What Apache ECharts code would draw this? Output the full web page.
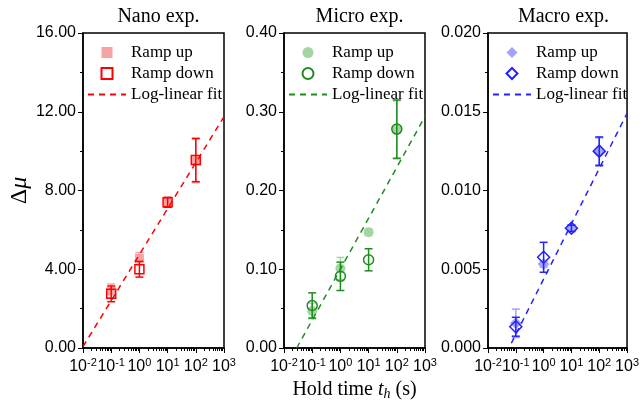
<!DOCTYPE html>
<html>
<head>
<meta charset="utf-8">
<script src="https://cdn.jsdelivr.net/npm/echarts@6/dist/echarts.min.js"></script>
<style>
  html, body { margin: 0; padding: 0; background: #fff; }
  #chart { width: 642px; height: 407px; }
</style>
</head>
<body>
<div id="chart"></div>
<script>
// hold times (s)
const holdTimes = [0.1, 1, 10, 100];
const decadeTicks = [0.01, 0.1, 1, 10, 100, 1000];

// Nano exp.
const nanoUp = [2.9, 4.55, 7.4, 9.5];
const nanoUpErr = [0.35, 0.3, 0.25, 1.1];
const nanoDown = [2.75, 4.0, 7.4, 9.55];
const nanoDownErr = [0.4, 0.4, 0.25, 1.1];
const nanoFitX = [0.01, 1000];
const nanoFitY = [0.07, 11.75];

// Micro exp.
const microUp = [0.047, 0.101, 0.147, 0.277];
const microUpErr = [0.01, 0.014, 0.004, 0.037];
const microDown = [0.054, 0.091, 0.112, 0.278];
const microDownErr = [0.016, 0.018, 0.014, 0.037];
const microFitX = [0.0282, 1000];
const microFitY = [0, 0.294];

// Macro exp.
const macroUp = [0.00157, 0.00533, 0.0076, 0.01244];
const macroUpErr = [0.0009, 0.0002, 0.0002, 0.0009];
const macroDown = [0.00135, 0.00576, 0.0076, 0.0125];
const macroDownErr = [0.0006, 0.00095, 0.0002, 0.0009];
const macroFitX = [0.069, 1000];
const macroFitY = [0.0003, 0.0149];

const titles = ["Nano exp.", "Micro exp.", "Macro exp."];
const yMax = [16, 0.4, 0.02];
const yStep = [4, 0.1, 0.005];
const yDigits = [2, 2, 3];
const legendNames = ["Ramp up", "Ramp down", "Log-linear fit"];

const SQUARE = "path://M0,0L10,0L10,10L0,10Z";
const DIAMOND = "path://M5,0L10,5L5,10L0,5Z";

const panels = [
  { key: "nano", up: nanoUp, upErr: nanoUpErr, down: nanoDown, downErr: nanoDownErr, fitX: nanoFitX, fitY: nanoFitY,
    dark: "#ff0000", light: "#f7a3a3", symbol: SQUARE, size: 9, icon: SQUARE },
  { key: "micro", up: microUp, upErr: microUpErr, down: microDown, downErr: microDownErr, fitX: microFitX, fitY: microFitY,
    dark: "#1f8c1f", light: "#a3d6a3", symbol: "circle", size: 10, icon: "circle" },
  { key: "macro", up: macroUp, upErr: macroUpErr, down: macroDown, downErr: macroDownErr, fitX: macroFitX, fitY: macroFitY,
    dark: "#2222ff", light: "#a3a3f7", symbol: DIAMOND, size: 12, icon: DIAMOND }
];

const gridLefts = [83, 284, 488];
const plotW = 141;

// minor ticks of the log axis (2..9 in every decade)
const minorTicks = [];
for (let d = -2; d < 3; d++) {
  for (let k = 2; k <= 9; k++) minorTicks.push(k * Math.pow(10, d));
}

function errorBar(color) {
  return function (params, api) {
    const x = api.value(0);
    const top = api.coord([x, api.value(2)]);
    const bot = api.coord([x, api.value(1)]);
    const cap = 4;
    const style = { stroke: color, lineWidth: 1.5, fill: null };
    return {
      type: "group",
      children: [
        { type: "line", shape: { x1: top[0], y1: top[1], x2: bot[0], y2: bot[1] }, style: style },
        { type: "line", shape: { x1: top[0] - cap, y1: top[1], x2: top[0] + cap, y2: top[1] }, style: style },
        { type: "line", shape: { x1: bot[0] - cap, y1: bot[1], x2: bot[0] + cap, y2: bot[1] }, style: style }
      ]
    };
  };
}

const grids = [], xAxes = [], yAxes = [], series = [], legends = [], titleOpts = [];
const nameMap = {};

panels.forEach(function (p, i) {
  grids.push({ left: gridLefts[i], width: plotW, top: 33, bottom: 59, show: true, borderColor: "#000", borderWidth: 1.5 });
  titleOpts.push({
    text: titles[i], left: gridLefts[i] + plotW / 2, top: 2, textAlign: "center",
    textStyle: { fontFamily: "Liberation Serif", fontSize: 20, fontWeight: "normal", color: "#000" }
  });
  xAxes.push({
    type: "log", logBase: 10, gridIndex: i, min: 0.01, max: 1000,
    axisLine: { lineStyle: { color: "#000", width: 1.5 } },
    axisTick: { length: 5, customValues: decadeTicks, lineStyle: { color: "#000" } },
    splitLine: { show: false },
    axisLabel: {
      customValues: decadeTicks, margin: 9, color: "#000", fontFamily: "Liberation Sans", fontSize: 16,
      formatter: function (v) { return "10{s|" + Math.round(Math.log10(v)) + "}"; },
      rich: { s: { fontSize: 11, verticalAlign: "top", padding: [0, 0, 9, 0], fontFamily: "Liberation Sans", color: "#000" } }
    },
    name: i === 1 ? "Hold time {i|t}{b|h} (s)" : "",
    nameLocation: "middle", nameGap: 31,
    nameTextStyle: {
      fontFamily: "Liberation Serif", fontSize: 20, color: "#000",
      rich: {
        i: { fontFamily: "Liberation Serif", fontSize: 20, fontStyle: "italic", color: "#000" },
        b: { fontFamily: "Liberation Serif", fontSize: 14, fontStyle: "italic", color: "#000", padding: [8, 0, 0, 0] }
      }
    }
  });
  yAxes.push({
    type: "value", gridIndex: i, min: 0, max: yMax[i], interval: yStep[i],
    axisLine: { show: true, lineStyle: { color: "#000", width: 1.5 } },
    axisTick: { show: true, length: 5, lineStyle: { color: "#000" } },
    minorTick: { show: true, splitNumber: 2, length: 3, lineStyle: { color: "#000" } },
    splitLine: { show: false },
    axisLabel: {
      margin: 7, color: "#000", fontFamily: "Liberation Sans", fontSize: 16,
      formatter: (function (d) { return function (v) { return v.toFixed(d); }; })(yDigits[i])
    },
    name: i === 0 ? "Δ{i|μ}" : "",
    nameLocation: "middle", nameGap: 50, nameRotate: 90,
    nameTextStyle: {
      fontFamily: "Liberation Serif", fontSize: 24, color: "#000",
      rich: { i: { fontFamily: "Liberation Serif", fontSize: 24, fontStyle: "italic", color: "#000" } }
    }
  });

  const upName = p.key + "-up", downName = p.key + "-down", fitName = p.key + "-fit";
  nameMap[upName] = legendNames[0];
  nameMap[downName] = legendNames[1];
  nameMap[fitName] = legendNames[2];

  series.push({
    type: "custom", xAxisIndex: i, yAxisIndex: i, renderItem: errorBar(p.light),
    encode: { x: 0, y: [1, 2] }, silent: true, z: 2,
    data: holdTimes.map(function (t, j) { return [t, p.up[j] - p.upErr[j], p.up[j] + p.upErr[j]]; })
  });
  series.push({
    name: upName, type: "scatter", xAxisIndex: i, yAxisIndex: i, symbol: p.symbol, symbolSize: p.size, z: 3,
    itemStyle: { color: p.light, opacity: 1 },
    data: holdTimes.map(function (t, j) { return [t, p.up[j]]; })
  });
  series.push({
    type: "custom", xAxisIndex: i, yAxisIndex: i, renderItem: errorBar(p.dark),
    encode: { x: 0, y: [1, 2] }, silent: true, z: 4,
    data: holdTimes.map(function (t, j) { return [t, p.down[j] - p.downErr[j], p.down[j] + p.downErr[j]]; })
  });
  series.push({
    name: downName, type: "scatter", xAxisIndex: i, yAxisIndex: i, symbol: p.symbol, symbolSize: p.size, z: 5,
    itemStyle: { color: "rgba(255,255,255,0)", borderColor: p.dark, borderWidth: 1.5, opacity: 1 },
    data: holdTimes.map(function (t, j) { return [t, p.down[j]]; })
  });
  series.push({
    name: fitName, type: "line", xAxisIndex: i, yAxisIndex: i, symbol: "circle", showSymbol: false, z: 6,
    lineStyle: { color: p.dark, width: 1.5, type: [6, 5] }, itemStyle: { color: "rgba(0,0,0,0)", borderWidth: 0 },
    data: p.fitX.map(function (x, j) { return [x, p.fitY[j]]; })
  });

  legends.push({
    data: [
      { name: upName, icon: p.icon },
      { name: downName, icon: p.icon },
      { name: fitName }
    ],
    orient: "vertical", left: gridLefts[i] - 1, top: 39, symbolKeepAspect: true,
    itemWidth: 38, itemHeight: 11, itemGap: 4, selectedMode: false,
    formatter: function (n) { return nameMap[n]; },
    textStyle: { fontFamily: "Liberation Serif", fontSize: 17, color: "#000" }
  });
});

// second x axis per grid carrying only the log minor ticks
panels.forEach(function (p, i) {
  xAxes.push({
    type: "log", logBase: 10, gridIndex: i, min: 0.01, max: 1000, position: "bottom",
    axisLine: { show: false }, axisLabel: { show: false }, splitLine: { show: false },
    axisTick: { length: 3, customValues: minorTicks, lineStyle: { color: "#000" } }
  });
});

const chart = echarts.init(document.getElementById("chart"), null, { renderer: "canvas" });
chart.setOption({
  animation: false,
  backgroundColor: "#fff",
  title: titleOpts,
  grid: grids,
  xAxis: xAxes,
  yAxis: yAxes,
  legend: legends,
  series: series
});
</script>
</body>
</html>
